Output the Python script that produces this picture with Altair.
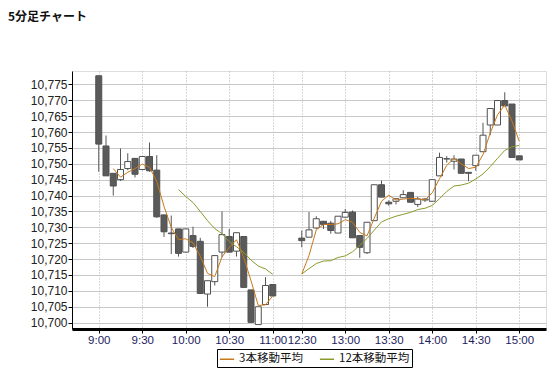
import altair as alt
import pandas as pd

title_text = "5分足チャート"
ma3_name = "3本移動平均"
ma12_name = "12本移動平均"

times_am = ["9:00", "9:05", "9:10", "9:15", "9:20", "9:25", "9:30", "9:35", "9:40", "9:45",
            "9:50", "9:55", "10:00", "10:05", "10:10", "10:15", "10:20", "10:25", "10:30", "10:35",
            "10:40", "10:45", "10:50", "10:55", "11:00"]
open_am = [10777.7, 10755.6, 10747.0, 10745.0, 10748.5, 10751.7, 10748.2, 10752.3, 10748.0, 10733.9,
           10728.2, 10729.5, 10722.2, 10727.4, 10725.6, 10709.0, 10712.9, 10722.2, 10727.1, 10722.5,
           10727.1, 10710.3, 10699.4, 10705.7, 10712.0]
high_am = [10777.7, 10758.9, 10747.0, 10754.8, 10753.3, 10751.7, 10752.3, 10756.7, 10752.7, 10734.0,
           10733.7, 10729.5, 10729.5, 10730.2, 10726.7, 10713.2, 10721.1, 10735.0, 10729.5, 10728.3,
           10727.1, 10710.3, 10705.0, 10714.3, 10712.0]
low_am = [10747.5, 10746.2, 10740.0, 10744.6, 10748.0, 10745.7, 10748.0, 10747.5, 10733.0, 10727.0,
          10721.6, 10720.8, 10722.0, 10723.5, 10709.0, 10705.0, 10711.7, 10720.6, 10722.0, 10720.8,
          10711.0, 10700.0, 10699.4, 10705.7, 10708.4]
close_am = [10756.2, 10746.2, 10743.0, 10748.2, 10750.7, 10746.7, 10752.3, 10747.8, 10733.3, 10728.6,
            10728.0, 10721.8, 10729.5, 10724.0, 10709.2, 10713.2, 10721.1, 10727.7, 10722.2, 10728.3,
            10711.1, 10700.1, 10705.0, 10711.7, 10708.4]
ma3_am = [None, None, 10748.5, 10745.8, 10747.3, 10748.5, 10749.9, 10748.9, 10744.5, 10736.6,
          10730.0, 10726.1, 10726.4, 10725.1, 10720.9, 10715.5, 10714.5, 10720.7, 10723.7, 10726.1,
          10720.5, 10713.2, 10705.4, 10705.6, 10708.4]
ma12_am = [None, None, None, None, None, None, None, None, None, None,
           None, 10741.9, 10739.7, 10737.8, 10735.0, 10732.1, 10729.6, 10728.0, 10725.5, 10723.9,
           10722.1, 10719.7, 10717.8, 10716.9, 10715.2]

times_pm = ["12:30", "12:35", "12:40", "12:45", "12:50", "12:55", "13:00", "13:05", "13:10", "13:15",
            "13:20", "13:25", "13:30", "13:35", "13:40", "13:45", "13:50", "13:55", "14:00", "14:05",
            "14:10", "14:15", "14:20", "14:25", "14:30", "14:35", "14:40", "14:45", "14:50", "14:55",
            "15:00"]
open_pm = [10726.6, 10726.9, 10729.8, 10731.9, 10731.3, 10728.2, 10733.2, 10734.8, 10727.4, 10722.0,
           10732.1, 10743.4, 10737.9, 10738.2, 10739.3, 10741.0, 10737.2, 10738.6, 10738.2, 10746.2,
           10751.5, 10750.8, 10751.5, 10747.3, 10749.4, 10753.8, 10762.2, 10762.2, 10769.9, 10768.8,
           10752.5]
high_pm = [10729.0, 10734.8, 10733.5, 10732.0, 10732.0, 10733.5, 10735.8, 10735.3, 10727.4, 10731.6,
           10743.4, 10744.7, 10738.5, 10739.0, 10741.7, 10741.0, 10739.6, 10739.2, 10745.0, 10753.5,
           10752.4, 10752.7, 10751.5, 10747.3, 10752.7, 10762.9, 10767.4, 10769.9, 10772.5, 10768.8,
           10752.5]
low_pm = [10723.7, 10726.9, 10729.5, 10729.5, 10728.0, 10728.2, 10733.0, 10726.7, 10720.4, 10721.6,
          10732.0, 10739.5, 10736.8, 10737.2, 10739.3, 10737.9, 10736.4, 10738.0, 10738.2, 10746.2,
          10750.4, 10748.2, 10747.0, 10744.5, 10747.8, 10753.8, 10759.0, 10762.2, 10768.2, 10752.0,
          10751.2]
close_pm = [10725.8, 10729.2, 10732.7, 10730.9, 10729.0, 10733.5, 10734.7, 10726.7, 10723.7, 10731.6,
            10743.4, 10739.5, 10737.4, 10739.0, 10740.3, 10737.9, 10738.9, 10738.9, 10745.0, 10752.0,
            10751.6, 10751.5, 10747.0, 10747.0, 10752.7, 10759.0, 10767.4, 10769.9, 10768.2, 10752.0,
            10751.2]
ma3_pm = [10715.3, 10721.1, 10729.2, 10730.9, 10730.9, 10731.1, 10732.4, 10731.6, 10728.4, 10727.3,
          10732.9, 10738.2, 10740.1, 10738.6, 10738.9, 10739.1, 10739.0, 10738.6, 10740.9, 10745.3,
          10749.5, 10751.7, 10750.0, 10748.5, 10748.9, 10752.9, 10759.7, 10765.4, 10768.5, 10763.4,
          10757.1]
ma12_pm = [10715.3, 10717.0, 10718.6, 10719.4, 10719.5, 10720.5, 10721.0, 10722.3, 10724.3, 10726.5,
           10729.1, 10731.7, 10732.7, 10733.5, 10734.1, 10734.7, 10735.6, 10736.0, 10736.9, 10739.0,
           10741.3, 10743.0, 10743.3, 10743.9, 10745.2, 10746.8, 10749.1, 10751.7, 10754.2, 10755.3,
           10755.8]

tick_labels = ["9:00", "9:30", "10:00", "10:30", "11:00", "12:30", "13:00", "13:30", "14:00", "14:30", "15:00"]
y_ticks = [10700, 10705, 10710, 10715, 10720, 10725, 10730, 10735, 10740, 10745,
           10750, 10755, 10760, 10765, 10770, 10775]

# slot positions: morning 0..24, afternoon starts after a 3-slot lunch gap
PM_START = 28
rows = []
ma_rows = []
for session, times, o, h, l, c, m3, m12, start in [
    ("am", times_am, open_am, high_am, low_am, close_am, ma3_am, ma12_am, 0),
    ("pm", times_pm, open_pm, high_pm, low_pm, close_pm, ma3_pm, ma12_pm, PM_START),
]:
    for i, t in enumerate(times):
        rows.append({"slot": start + i, "time": t, "open": o[i], "high": h[i], "low": l[i], "close": c[i]})
        if m3[i] is not None:
            ma_rows.append({"slot": start + i, "value": m3[i], "series": ma3_name, "session": session})
        if m12[i] is not None:
            ma_rows.append({"slot": start + i, "value": m12[i], "series": ma12_name, "session": session})

df = pd.DataFrame(rows)
ma_df = pd.DataFrame(ma_rows)

slot_of = {t: i for i, t in enumerate(times_am)}
slot_of.update({t: PM_START + i for i, t in enumerate(times_pm)})
tick_slots = [slot_of[t] for t in tick_labels]
label_expr = ""
for s, t in zip(tick_slots, tick_labels):
    label_expr += f"datum.value == {s} ? '{t}' : "
label_expr += "''"

x_scale = alt.Scale(domain=[-3, 61], nice=False, zero=False)
y_scale = alt.Scale(domain=[10698, 10779.2], nice=False, zero=False)

x_axis = alt.Axis(values=tick_slots, labelExpr=label_expr, title=None, grid=True,
                  gridDash=[1, 2], gridColor="#b0b0b0", domainWidth=3, domainColor="black",
                  tickColor="black", tickSize=4, labelColor="#1c1c5c", labelFontSize=11.5,
                  labelFont="Liberation Sans", labelPadding=1, labelFlush=False,
                  labelOverlap=False)
y_axis = alt.Axis(values=y_ticks, format=",d", title=None, grid=True, gridColor="#c8c8c8",
                  tickColor="black", tickSize=4, domainColor="black", labelFontSize=12,
                  labelFont="Liberation Sans", labelColor="#222222", labelPadding=1,
                  labelOverlap=False, tickCount=16)

base = alt.Chart(df)
wicks = base.mark_rule(color="#555555", strokeWidth=1).encode(
    x=alt.X("slot:Q", scale=x_scale, axis=x_axis),
    y=alt.Y("low:Q", scale=y_scale, axis=y_axis),
    y2="high:Q",
)
bodies = base.mark_bar(size=6, stroke="#505050", strokeWidth=1).encode(
    x=alt.X("slot:Q", scale=x_scale, axis=x_axis),
    y=alt.Y("open:Q", scale=y_scale, axis=y_axis),
    y2="close:Q",
    fill=alt.condition("datum.open > datum.close", alt.value("#5a5a5a"), alt.value("#ffffff")),
)
lines = alt.Chart(ma_df).mark_line(strokeWidth=1).encode(
    x=alt.X("slot:Q", scale=x_scale, axis=x_axis),
    y=alt.Y("value:Q", scale=y_scale, axis=y_axis),
    color=alt.Color("series:N",
                    scale=alt.Scale(domain=[ma3_name, ma12_name], range=["#c8781a", "#8c9a2c"]),
                    legend=alt.Legend(title=None, orient="none", legendX=145, legendY=278,
                                      direction="horizontal", strokeColor="black", fillColor="white",
                                      padding=2, symbolType="stroke", symbolStrokeWidth=1.5,
                                      symbolSize=200, labelFont="Noto Sans CJK JP", labelFontSize=11.5,
                                      labelColor="#111111", columnPadding=13, cornerRadius=0,
                                      labelOffset=4)),
    detail="session:N",
)

chart = alt.layer(wicks, bodies, lines).properties(
    width=474, height=258,
    padding={"left": 72, "top": 71, "right": 9, "bottom": 39},
    autosize="none",
    title=alt.TitleParams(title_text, anchor="start", frame="group", dx=-64, offset=38,
                          baseline="alphabetic", font="Noto Sans CJK JP", fontSize=12,
                          fontWeight="bold", color="#111111"),
).configure_view(stroke="black", strokeWidth=1).configure(background="white")

chart.save("out.html", embed_options={"renderer": "svg", "actions": False})
